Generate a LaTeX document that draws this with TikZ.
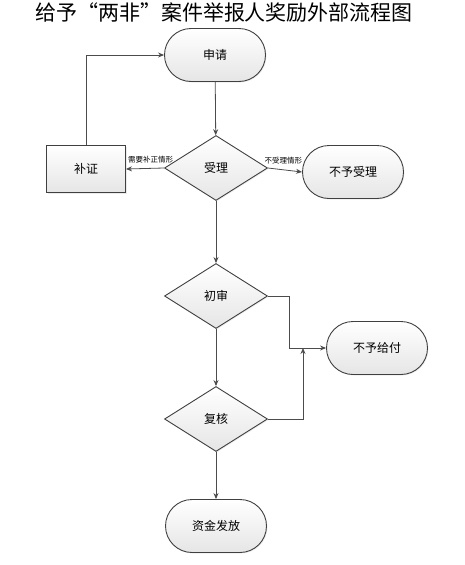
\documentclass[tikz,border=0pt]{standalone}
\usepackage{fontspec}
\setmainfont{Noto Sans CJK SC}
\usetikzlibrary{shapes.geometric,shapes.misc,arrows.meta,shadows}
\begin{document}
\begin{tikzpicture}[x=1pt,y=-1pt,
  base/.style={draw=black!75, line width=0.9pt, top color=white, bottom color=black!10,
     font=\fontsize{12}{14}\selectfont, drop shadow={opacity=0.15,shadow xshift=1pt,shadow yshift=-1pt}},
  pill/.style={base, rounded rectangle, minimum width=101pt, minimum height=53pt, inner sep=0pt},
  dia/.style={base, diamond, aspect=1.57, minimum width=103pt, minimum height=65pt, inner sep=0pt},
  box/.style={base, rectangle, minimum width=79pt, minimum height=47pt, inner sep=0pt},
  conn/.style={draw=black!70, line width=0.8pt, -{Stealth[length=6pt,width=5pt]}},
  lbl/.style={font=\fontsize{7.5}{9}\selectfont, inner sep=1pt}
]
\useasboundingbox (0,0) rectangle (464,565);
\node[font=\fontsize{21}{24}\selectfont] (title) at (224,13) {给予“两非”案件举报人奖励外部流程图};
\node[pill] (apply) at (215,55) {申请};
\node[dia] (accept) at (216,168) {受理};
\node[box] (supp) at (86,169) {补证};
\node[pill] (rej) at (353,172) {不予受理};
\node[dia] (first) at (216,296) {初审};
\node[pill] (nopay) at (377,348) {不予给付};
\node[dia] (review) at (216,419) {复核};
\node[pill] (pay) at (216,526) {资金发放};
\coordinate (c1) at (supp.north |- apply.west);
\coordinate (c2) at (289,296);
\coordinate (c3) at (289,348);
\coordinate (c4) at (303,419);
\coordinate (c5) at (303,348);
\draw[conn] (apply) -- (accept);
\draw[conn] (accept.west) -- node[lbl, above=4pt, pos=0.35] (l1) {需要补正情形} (supp.east);
\draw[conn] (accept.east) -- node[lbl, above=4pt, pos=0.45] (l2) {不受理情形} (rej.west);
\draw[conn] (supp.north) -- (c1) -- (apply.west);
\draw[conn] (accept.south) -- (first.north);
\draw[conn] (first.south) -- (review.north);
\draw[conn] (review.south) -- (pay.north);
\draw[conn] (first.east) -- (c2) -- (c3) -- (nopay.west);
\draw[conn] (review.east) -- (c4) -- (c5);
\end{tikzpicture}
\end{document}
